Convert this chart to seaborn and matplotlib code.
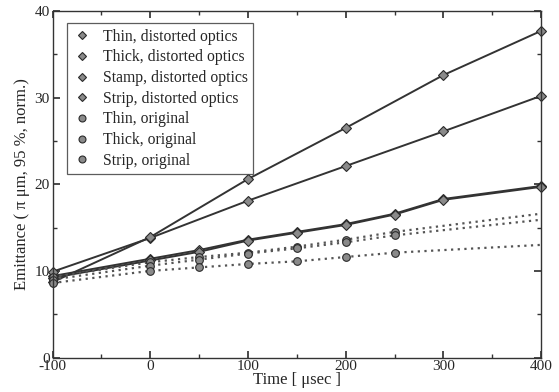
import numpy as np
import pandas as pd
import matplotlib
matplotlib.use("Agg")
import matplotlib.pyplot as plt
import seaborn as sns
from matplotlib.lines import Line2D
from matplotlib.ticker import MultipleLocator

# ---- data ----
t_strip_d = [-100, 0, 100, 200, 300, 400]
v_strip_d = [8.7, 13.9, 20.6, 26.5, 32.6, 37.7]

t_thick_d = [-100, 0, 100, 200, 300, 400]
v_thick_d = [9.9, 13.8, 18.1, 22.1, 26.1, 30.2]

t_thin_d = [-100, 0, 50, 100, 150, 200, 250, 300, 400]
v_thin_d = [9.4, 11.4, 12.4, 13.6, 14.5, 15.4, 16.6, 18.3, 19.8]

t_stamp_d = [-100, 0, 50, 100, 150, 200, 250, 300, 400]
v_stamp_d = [9.2, 11.2, 12.2, 13.5, 14.4, 15.3, 16.5, 18.2, 19.7]

t_thin_o = [-100, 0, 50, 100, 150, 200, 250, 400]
v_thin_o = [9.3, 11.0, 11.6, 12.1, 12.8, 13.6, 14.5, 16.6]

t_thick_o = [-100, 0, 50, 100, 150, 200, 250, 400]
v_thick_o = [9.0, 10.6, 11.3, 12.0, 12.6, 13.3, 14.1, 15.9]

t_strip_o = [-100, 0, 50, 100, 150, 200, 250, 400]
v_strip_o = [8.6, 10.0, 10.4, 10.8, 11.1, 11.6, 12.1, 13.0]

labels = ["Thin, distorted optics", "Thick, distorted optics",
          "Stamp, distorted optics", "Strip, distorted optics",
          "Thin, original", "Thick, original", "Strip, original"]

series = [
    (labels[0], t_thin_d, v_thin_d),
    (labels[1], t_thick_d, v_thick_d),
    (labels[2], t_stamp_d, v_stamp_d),
    (labels[3], t_strip_d, v_strip_d),
    (labels[4], t_thin_o, v_thin_o),
    (labels[5], t_thick_o, v_thick_o),
    (labels[6], t_strip_o, v_strip_o),
]

df = pd.concat([pd.DataFrame({"Time": t, "Emittance": v, "Series": name})
                for name, t, v in series], ignore_index=True)

# ---- plot ----
sns.set_theme(style="ticks")
plt.rcParams["font.family"] = ["Liberation Serif", "DejaVu Serif"]
plt.rcParams["axes.unicode_minus"] = False

fig = plt.figure(figsize=(5.59, 3.92), dpi=100)
ax = fig.add_axes([0.094, 0.088, 0.874, 0.884])

edge = "#2a2a2a"
face = "#8a8a8a"

for name in labels:
    sub = df[df["Series"] == name]
    original = "original" in name
    n = len(sub)
    sns.lineplot(data=sub, x="Time", y="Emittance", ax=ax,
                 color="#555555" if original else "#333333",
                 linestyle=(0, (1, 2)) if original else "-",
                 linewidth=1.6 if original else 1.4,
                 marker="o" if original else "D",
                 markersize=5.5 if original else 5,
                 markevery=list(range(n - 1)) if original else None,
                 markerfacecolor=face, markeredgecolor=edge,
                 markeredgewidth=0.8, legend=False, clip_on=False)

ax.set_xlim(-100, 400)
ax.set_ylim(0, 40)
ax.xaxis.set_major_locator(MultipleLocator(100))
ax.xaxis.set_minor_locator(MultipleLocator(50))
ax.yaxis.set_major_locator(MultipleLocator(10))
ax.yaxis.set_minor_locator(MultipleLocator(5))
ax.tick_params(which="both", direction="in", top=True, right=True,
               color="#333333", labelsize=11, pad=2)
ax.tick_params(which="major", length=5)
ax.tick_params(which="minor", length=3)
for s in ax.spines.values():
    s.set_color("#333333")
    s.set_linewidth(1.0)

ax.set_xlabel("Time [ \u03bcsec ]", fontsize=12, labelpad=-1)
ax.set_ylabel("Emittance ( \u03c0 \u03bcm, 95 %, norm.)", fontsize=12, labelpad=3)

handles = []
for name in labels:
    original = "original" in name
    handles.append(Line2D([], [], linestyle="none",
                          marker="o" if original else "D",
                          markersize=5 if original else 4.5,
                          markerfacecolor=face, markeredgecolor=edge,
                          markeredgewidth=0.8))
leg = ax.legend(handles, labels, loc="upper left", bbox_to_anchor=(0.03, 0.965),
                fontsize=11.3, frameon=True, fancybox=False, borderpad=0.35,
                labelspacing=0.3, handletextpad=0.7, handlelength=1.2,
                borderaxespad=0)
leg.get_frame().set_edgecolor("#333333")
leg.get_frame().set_linewidth(0.9)

fig.savefig("out.png", dpi=100)
